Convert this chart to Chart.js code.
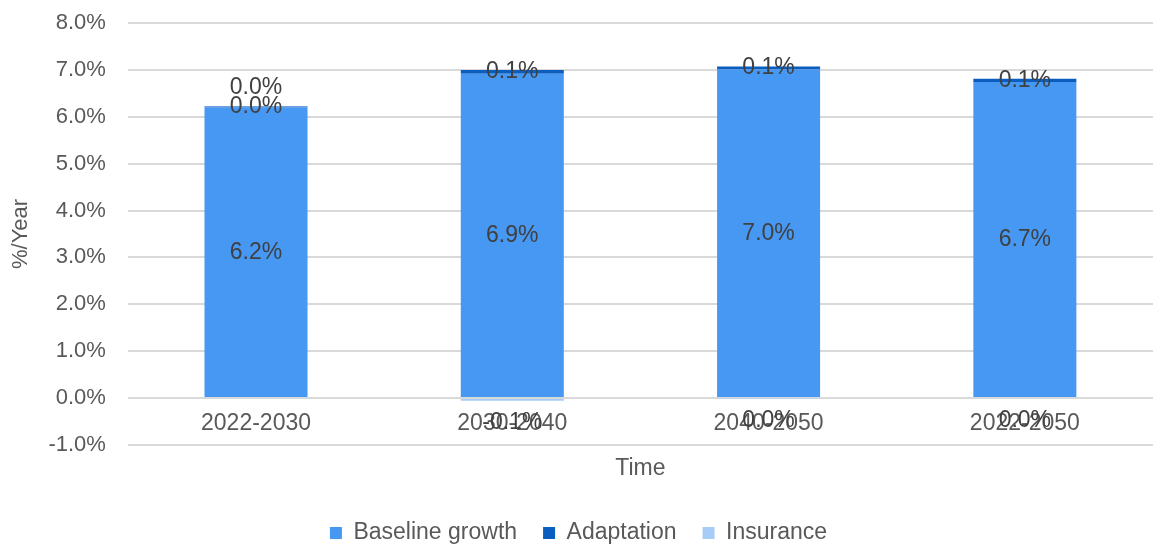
<!DOCTYPE html>
<html>
<head>
<meta charset="utf-8">
<title>Growth decomposition</title>
<script src="https://cdn.jsdelivr.net/npm/chart.js@4/dist/chart.umd.min.js"></script>
<style>
  html, body { margin: 0; padding: 0; background: #ffffff; }
  #wrap { position: relative; width: 1153px; height: 544px; }
</style>
</head>
<body>
<div id="wrap"><canvas id="chart"></canvas></div>
<script>
// Periods on the category axis
const periods = ['2022-2030', '2030-2040', '2040-2050', '2022-2050'];

// Contributions, % per year
const baselineGrowth = [6.20, 6.92, 7.01, 6.74];
const adaptation     = [0.02, 0.08, 0.06, 0.07];
const insurance      = [0.01, -0.06, -0.01, -0.02];

// Value-axis range and step, % per year
const yMin = -1;
const yMax = 8;
const yStep = 1;

const FONT = '"Liberation Sans", Arial, Helvetica, sans-serif';
const AXIS_TEXT = '#595959';
const LABEL_TEXT = '#404040';

function pct(v) {
  let s = v.toFixed(1);
  if (s === '-0.0') s = '0.0';
  return s + '%';
}

// Writes each segment's value on the bars
const segmentLabels = {
  id: 'segmentLabels',
  afterDatasetsDraw(chart) {
    const ctx = chart.ctx;
    ctx.save();
    ctx.font = '23px ' + FONT;
    ctx.fillStyle = LABEL_TEXT;
    ctx.textAlign = 'center';
    ctx.textBaseline = 'middle';
    chart.data.datasets.forEach((ds, i) => {
      const meta = chart.getDatasetMeta(i);
      if (meta.hidden) return;
      meta.data.forEach((bar, j) => {
        const v = ds.data[j];
        let y = (bar.y + bar.base) / 2;
        if (ds.label === 'Insurance') {
          y = v < 0 ? bar.y + 22 : bar.y - 18;
        }
        ctx.fillText(pct(v), bar.x, y);
      });
    });
    ctx.restore();
  }
};

new Chart(document.getElementById('chart'), {
  type: 'bar',
  data: {
    labels: periods,
    datasets: [
      { label: 'Baseline growth', data: baselineGrowth, backgroundColor: '#4698F3', borderWidth: 0 },
      { label: 'Adaptation',      data: adaptation,     backgroundColor: '#0B5EBE', borderWidth: 0 },
      { label: 'Insurance',       data: insurance,      backgroundColor: '#A7CDF7', borderWidth: 0 }
    ]
  },
  options: {
    responsive: true,
    maintainAspectRatio: false,
    animation: false,
    devicePixelRatio: 1,
    datasets: { bar: { categoryPercentage: 1.0, barPercentage: 0.402 } },
    layout: { padding: { top: 23, right: 0, bottom: -10.5, left: 4 } },
    scales: {
      x: {
        stacked: true,
        position: { y: 0 },
        grid: { display: false, drawTicks: false },
        border: { display: false },
        ticks: {
          color: AXIS_TEXT,
          font: { family: FONT, size: 23 },
          padding: 12,
          maxRotation: 0,
          autoSkip: false
        }
      },
      y: {
        stacked: true,
        min: yMin,
        max: yMax,
        grid: {
          color: '#D9D9D9',
          lineWidth: 2,
          drawTicks: true,
          tickLength: 22,
          tickColor: 'rgba(0,0,0,0)'
        },
        border: { display: false },
        ticks: {
          stepSize: yStep,
          color: AXIS_TEXT,
          font: { family: FONT, size: 22 },
          padding: 0,
          callback: (v) => v.toFixed(1) + '%'
        },
        title: {
          display: true,
          text: '%/Year',
          color: AXIS_TEXT,
          font: { family: FONT, size: 22 },
          padding: { top: 4, bottom: 14 }
        }
      }
    },
    plugins: {
      legend: {
        position: 'bottom',
        labels: {
          boxWidth: 12,
          boxHeight: 12,
          padding: 26,
          color: AXIS_TEXT,
          font: { family: FONT, size: 23 }
        }
      },
      title: {
        display: true,
        text: 'Time',
        position: 'bottom',
        fullSize: false,
        weight: 500,
        color: AXIS_TEXT,
        font: { family: FONT, size: 23, weight: 'normal' },
        padding: { top: 10, bottom: 13 }
      },
      tooltip: { enabled: false }
    }
  },
  plugins: [segmentLabels]
});
</script>
</body>
</html>
